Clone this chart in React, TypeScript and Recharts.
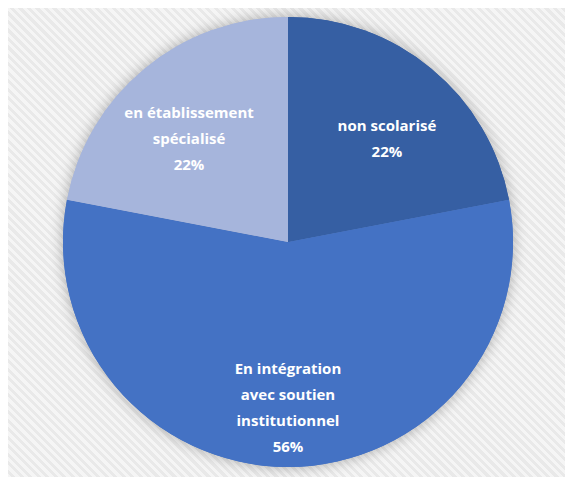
import React from 'react';
import { PieChart, Pie, Cell } from 'recharts';

const categories = ['non scolarisé', 'En intégration avec soutien institutionnel', 'en établissement spécialisé'];
const values = [22, 56, 22];
const labelLines = [
  ['non scolarisé'],
  ['En intégration', 'avec soutien', 'institutionnel'],
  ['en établissement', 'spécialisé'],
];
const colors = ['#365fa3', '#4472c4', '#a6b5dc'];

const chartData = categories.map((name, i) => ({ name, value: values[i] }));

const RADIAN = Math.PI / 180;

const renderLabel = (props: any) => {
  const { cx, cy, midAngle, outerRadius, percent, index } = props;
  // the big slice keeps its label lower, small ones sit a bit wider than tall
  const rx = outerRadius * (percent > 0.5 ? 0.735 : 0.69);
  const ry = outerRadius * (percent > 0.5 ? 0.735 : 0.6);
  const x = cx + rx * Math.cos(-midAngle * RADIAN);
  const y = cy + ry * Math.sin(-midAngle * RADIAN);
  const lines = [...labelLines[index], `${Math.round(percent * 100)}%`];
  const lineH = 26;
  const startY = y - ((lines.length - 1) * lineH) / 2;
  return (
    <text
      x={x}
      y={startY}
      fill="#ffffff"
      textAnchor="middle"
      dominantBaseline="central"
      fontFamily="'Open Sans', sans-serif"
      fontWeight="bold"
      fontSize={15}
    >
      {lines.map((l, i) => (
        <tspan key={i} x={x} dy={i === 0 ? 0 : lineH}>
          {l}
        </tspan>
      ))}
    </text>
  );
};

export default function App() {
  return (
    <div
      style={{
        margin: -8,
        width: 573,
        height: 485,
        position: 'relative',
        background: '#ffffff',
      }}
    >
      <style>{`.shadow-pie .recharts-pie-sector { filter: drop-shadow(0 0 7px rgba(0,0,0,0.3)); }`}</style>
      <div
        style={{
          position: 'absolute',
          left: 7,
          top: 7,
          width: 559,
          height: 478,
          background: 'repeating-linear-gradient(45deg, #f5f5f5 0px, #f5f5f5 3px, #e9e9e9 3px, #e9e9e9 6px)',
        }}
      />
      <div style={{ position: 'absolute', left: 0, top: 0 }}>
        <PieChart width={573} height={485} margin={{ top: 0, right: 0, bottom: 0, left: 0 }}>
          <Pie
            className="shadow-pie"
            data={chartData}
            dataKey="value"
            nameKey="name"
            cx={288}
            cy={242}
            outerRadius={225}
            startAngle={90}
            endAngle={-270}
            stroke="none"
            isAnimationActive={false}
          >
            {chartData.map((d, i) => (
              <Cell key={d.name} fill={colors[i]} />
            ))}
          </Pie>
          <Pie
            data={chartData}
            dataKey="value"
            nameKey="name"
            cx={288}
            cy={242}
            outerRadius={225}
            startAngle={90}
            endAngle={-270}
            stroke="none"
            label={renderLabel}
            labelLine={false}
            isAnimationActive={false}
          >
            {chartData.map((d, i) => (
              <Cell key={d.name} fill={colors[i]} />
            ))}
          </Pie>
        </PieChart>
      </div>
    </div>
  );
}
